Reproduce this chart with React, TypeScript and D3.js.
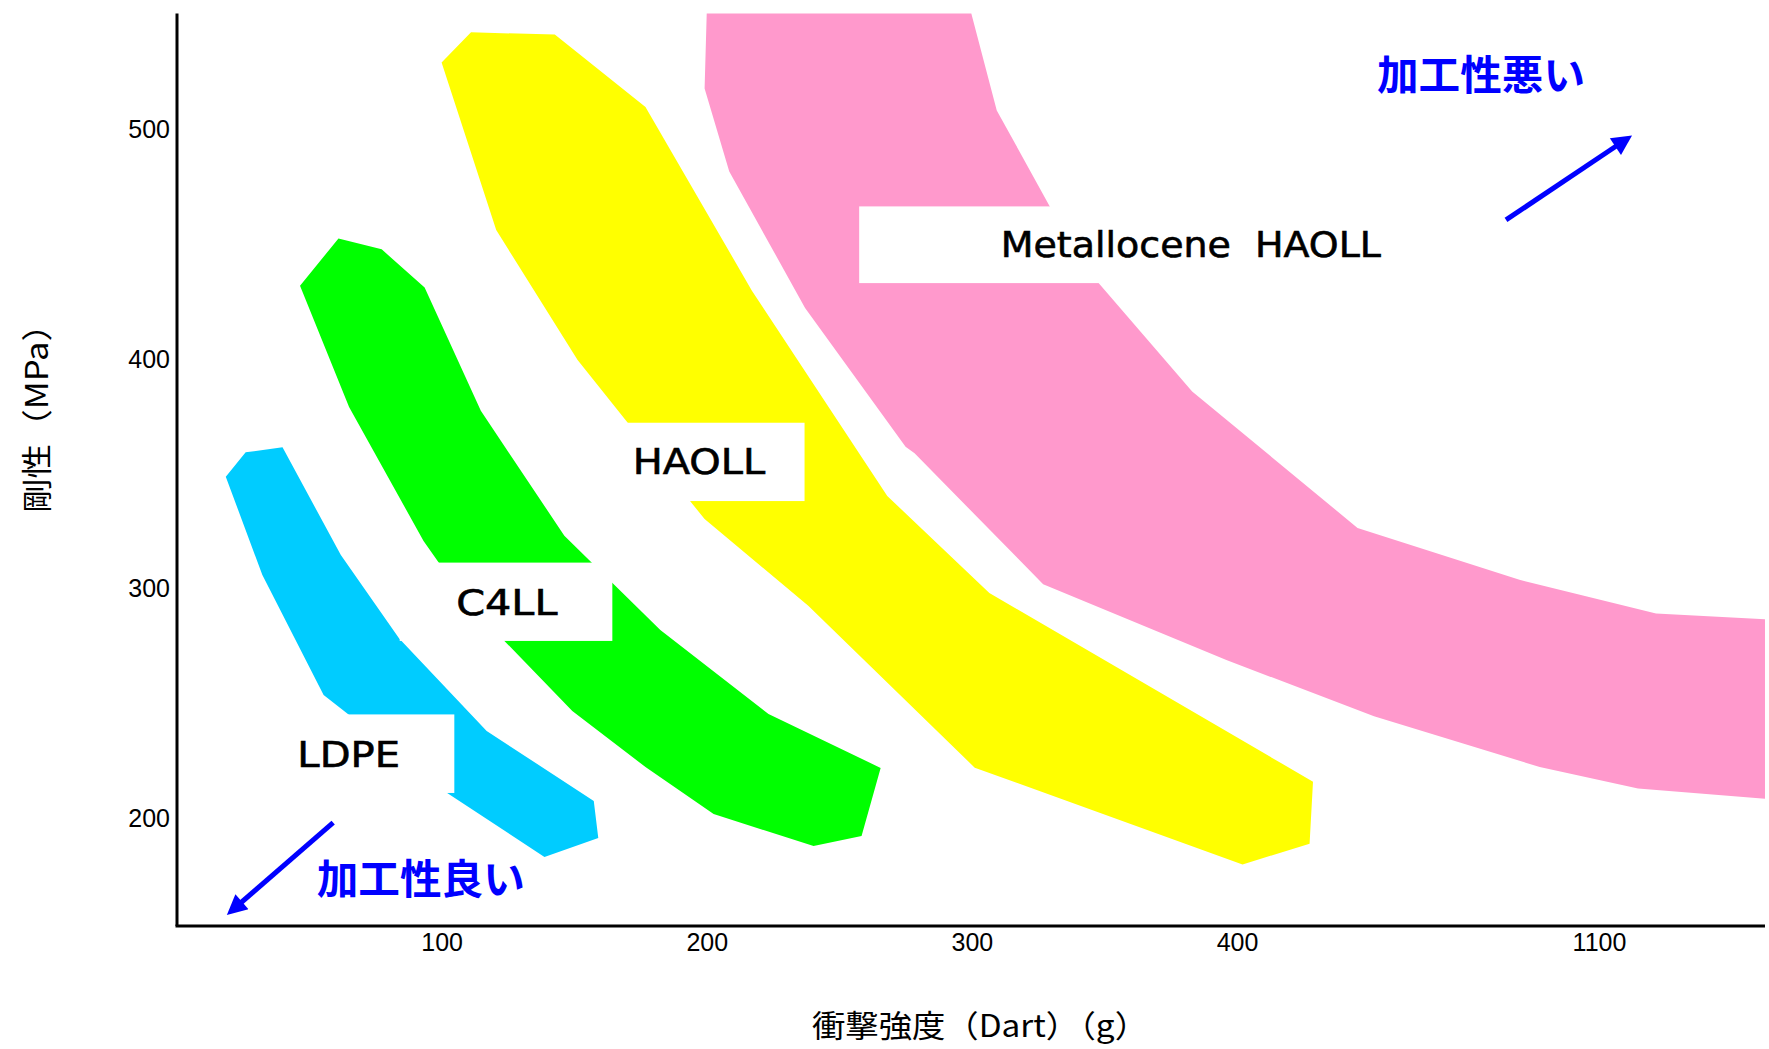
import * as d3 from "d3"

type Pt = [number, number]

const W = 1769
const H = 1049

// 衝撃強度(Dart)(g) — the axis is broken after 400
const xTicks = [100, 200, 300, 400, 1100]
const yTicks = [200, 300, 400, 500]

const regionNames = ["LDPE", "C4LL", "HAOLL", "Metallocene  HAOLL"]
const regionColors = ["#00ccff", "#00ff00", "#ffff00", "#ff99cc"]

// outlines as [impact strength (g), stiffness (MPa)]
const ldpe: Pt[] = [
  [18.4, 348.6], [25.9, 359.2], [39.8, 361.4], [61.8, 314.5], [83.8, 278.2],
  [116.8, 237.9], [157.2, 207.4], [158.9, 191.3], [138.6, 183.0], [101.9, 210.9],
  [64.7, 245.1], [55.3, 253.6], [32.2, 305.8],
]
const c4ll: Pt[] = [
  [46.4, 431.8], [60.9, 452.3], [77.2, 447.6], [93.4, 431.0], [114.6, 377.3],
  [146.1, 322.9], [182.3, 281.9], [223.1, 245.3], [265.4, 221.8], [258.2, 192.2],
  [240.1, 187.8], [202.4, 201.7], [176.7, 222.2], [149.1, 246.6], [123.5, 277.1],
  [98.7, 311.2], [93.0, 320.6], [64.9, 379.0],
]
const haoll: Pt[] = [
  [99.8, 529.0], [110.9, 542.1], [142.5, 541.1], [176.7, 509.6], [216.9, 429.5],
  [267.9, 340.2], [306.4, 298.0], [546.0, 215.8], [539.4, 188.8], [409.7, 179.8],
  [300.9, 221.9], [238.1, 292.4], [199.0, 330.2], [193.5, 338.0], [170.0, 372.1],
  [151.1, 399.4], [120.4, 456.0],
]
const metallocene: Pt[] = [
  [199.8, 550.3], [299.6, 550.3], [309.2, 508.1], [329.2, 466.3], [347.6, 432.9],
  [382.9, 385.7], [632.1, 326.3], [945.2, 303.7], [1209.3, 289.0], [1420, 286.5],
  [1420, 208.4], [1174.5, 212.8], [984.4, 222.2], [664.0, 244.3], [395.8, 268.8],
  [326.7, 301.8], [278.2, 358.8], [274.8, 361.7], [236.9, 422.1], [208.3, 481.5],
  [199.0, 517.6],
]
const regions = [ldpe, c4ll, haoll, metallocene]

// white label panels [x0, x1, yTop, yBottom] and text [xStart, xEnd, baseline]
const labelBoxes = [
  [38.5, 104.6, 245.1, 210.9],
  [84.0, 164.2, 311.2, 277.1],
  [165.0, 236.7, 372.1, 338.0],
  [257.3, 704.6, 466.3, 432.9],
]
const labelText = [
  [45.4, 84.1, 222.3],
  [105.3, 143.5, 288.6],
  [171.9, 221.9, 349.8],
  [310.7, 677.5, 444.1],
]

// processability notes: [text, xStart, xEnd, yCenter], arrows [from, to]
const notes: [string, number, number, number][] = [
  ["加工性悪い", 669.8, 1072, 525.0],
  ["加工性良い", 52.7, 131.2, 174.7],
]
const arrows: [Pt, Pt][] = [
  [[919.2, 460.4], [1162.9, 497.2]],
  [[58.9, 198.0], [18.8, 157.8]],
]

const xMax = 1420
const yMin = 153
const yMax = 550.3

export default function App() {
  const x = d3.scaleLinear().domain([0, 400, 1100]).range([177, 1237.5, 1599.5])
  const y = d3.scaleLinear().domain([200, 500]).range([818, 129])

  const line = d3
    .line<Pt>()
    .x((d) => x(d[0]))
    .y((d) => y(d[1]))

  const latin = "'DejaVu Sans', 'Liberation Sans', sans-serif"
  const jp = "'Noto Sans CJK JP', sans-serif"
  const num = "'Liberation Sans', Arial, sans-serif"

  return (
    <svg
      width={W}
      height={H}
      style={{ position: "absolute", left: 0, top: 0, display: "block", background: "#fff" }}
    >
      <defs>
        <marker
          id="head"
          viewBox="0 0 10 10"
          refX="10"
          refY="5"
          markerWidth="24"
          markerHeight="20"
          markerUnits="userSpaceOnUse"
          orient="auto"
        >
          <path d="M0,0 L10,5 L0,10 z" fill="#0000ff" />
        </marker>
      </defs>

      {/* regions */}
      {regions.map((r, i) => (
        <path key={regionNames[i]} d={line(r) + "Z"} fill={regionColors[i]} />
      ))}

      {/* label panels */}
      {labelBoxes.map((b, i) => (
        <rect
          key={"box" + i}
          x={x(b[0])}
          y={y(b[2])}
          width={x(b[1]) - x(b[0])}
          height={y(b[3]) - y(b[2])}
          fill="#fff"
        />
      ))}
      {labelText.map((t, i) => (
        <text
          key={"lbl" + i}
          x={x(t[0])}
          y={y(t[2])}
          textLength={x(t[1]) - x(t[0])}
          lengthAdjust="spacingAndGlyphs"
          fontFamily={latin}
          fontSize={35}
          fill="#000"
          stroke="#000"
          strokeWidth={0.6}
          style={{ whiteSpace: "pre" }}
        >
          {regionNames[i]}
        </text>
      ))}

      {/* axes */}
      <line x1={x(0)} x2={x(0)} y1={y(yMax)} y2={y(yMin)} stroke="#000" strokeWidth={3} />
      <line x1={x(0) - 1.5} x2={x(xMax)} y1={y(yMin)} y2={y(yMin)} stroke="#000" strokeWidth={3} />

      {yTicks.map((t) => (
        <text
          key={"y" + t}
          x={170}
          y={y(t)}
          textAnchor="end"
          dominantBaseline="central"
          fontFamily={num}
          fontSize={25}
          fill="#000"
        >
          {t}
        </text>
      ))}
      {xTicks.map((t) => (
        <text
          key={"x" + t}
          x={x(t)}
          y={951}
          textAnchor="middle"
          fontFamily={num}
          fontSize={25}
          fill="#000"
        >
          {t}
        </text>
      ))}

      <text
        transform="translate(34,410) rotate(-90)"
        textAnchor="middle"
        dominantBaseline="central"
        fontFamily={jp}
        fontSize={31}
        textLength={206}
        lengthAdjust="spacingAndGlyphs"
        fill="#000"
      >
        剛性（MPa）
      </text>
      <text
        x={980}
        y={1023}
        textAnchor="middle"
        dominantBaseline="central"
        fontFamily={jp}
        fontSize={31}
        textLength={336}
        lengthAdjust="spacingAndGlyphs"
        fill="#000"
      >
        衝撃強度（Dart）（g）
      </text>

      {/* processability notes */}
      {notes.map(([s, x0, x1, yc]) => (
        <text
          key={s}
          x={x(x0)}
          y={y(yc)}
          dominantBaseline="central"
          textLength={x(x1) - x(x0)}
          lengthAdjust="spacingAndGlyphs"
          fontFamily={jp}
          fontWeight="bold"
          fontSize={41}
          fill="#0000ff"
        >
          {s}
        </text>
      ))}
      {arrows.map(([a, b], i) => {
        const x1 = x(a[0])
        const y1 = y(a[1])
        const x2 = x(b[0])
        const y2 = y(b[1])
        const len = Math.hypot(x2 - x1, y2 - y1)
        const k = (len - 14) / len
        return (
          <g key={"arr" + i}>
            <line
              x1={x1}
              y1={y1}
              x2={x1 + (x2 - x1) * k}
              y2={y1 + (y2 - y1) * k}
              stroke="#0000ff"
              strokeWidth={5}
            />
            <line
              x1={x1 + (x2 - x1) * k}
              y1={y1 + (y2 - y1) * k}
              x2={x2}
              y2={y2}
              stroke="none"
              markerEnd="url(#head)"
            />
          </g>
        )
      })}
    </svg>
  )
}
